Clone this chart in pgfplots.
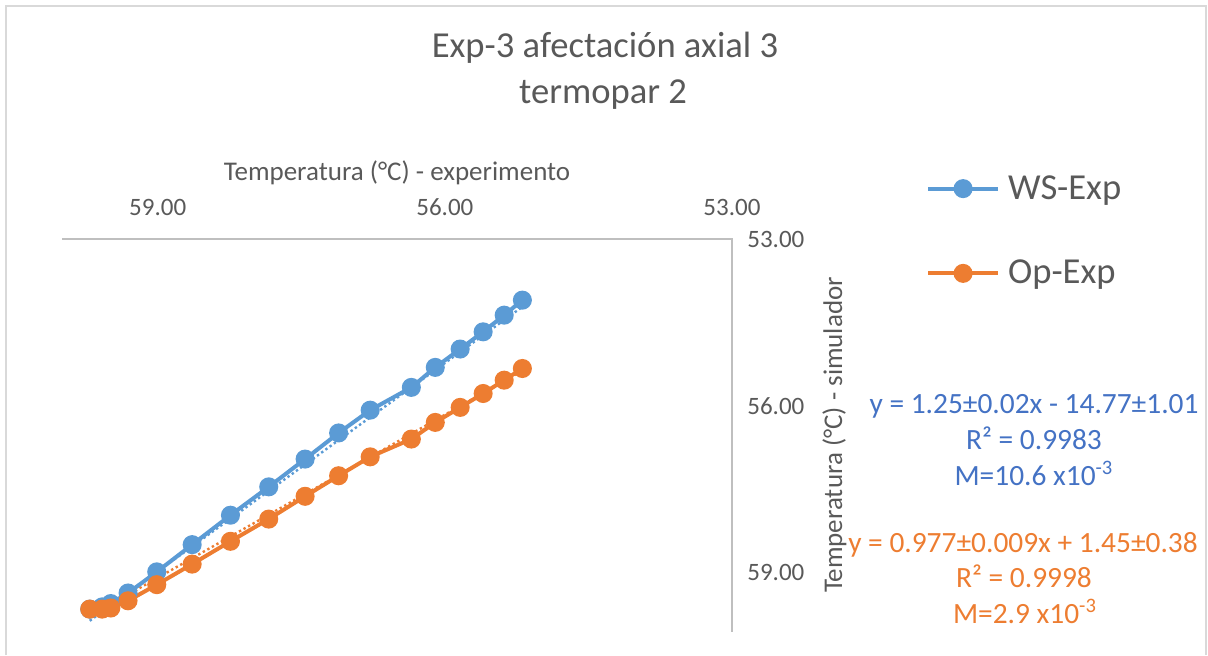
\documentclass[border=0pt]{standalone}
\usepackage{pgfplots}
\pgfplotsset{compat=1.18}
\usepackage{fontspec}
\setmainfont{Carlito}
\definecolor{txt}{HTML}{595959}
\definecolor{wsblue}{HTML}{5B9BD5}
\definecolor{oporange}{HTML}{ED7D31}
\definecolor{eqblue}{HTML}{4472C4}
\definecolor{axc}{HTML}{BFBFBF}
\definecolor{brd}{HTML}{D9D9D9}
\begin{document}
\begin{tikzpicture}[x=0.5pt,y=0.5pt]
\useasboundingbox (0,0) rectangle (1208,655);
\draw[brd, line width=1pt] (6,0) -- (6,649) -- (1206,649) -- (1206,0);
\begin{axis}[
  name=ax,
  at={(198.5pt,110.75pt)}, anchor=center,
  scale only axis, width=335pt, height=194.5pt,
  xmin=53, xmax=60, ymin=53, ymax=60,
  x dir=reverse, y dir=reverse,
  axis line style={draw=none},
  major tick length=0pt,
  xtick={53,56,59}, ytick={53,56,59},
  xticklabel pos=upper, yticklabel pos=upper,
  xticklabel style={anchor=south, inner sep=0pt, yshift=11.5pt},
  yticklabel style={anchor=west, inner sep=0pt, xshift=7.5pt},
  ticklabel style={font=\fontsize{12.5}{15}\selectfont, text=txt},
  /pgf/number format/.cd, fixed, fixed zerofill, precision=2, assume math mode=true,
  /pgfplots/.cd,
  legend style={draw=none, fill=none, at={(1.2891,1.0206)}, anchor=west,
    inner sep=0pt, row sep=29pt, font=\fontsize{18.3}{22}\selectfont, text=txt,
    nodes={inner sep=0pt}, column sep=4pt},
  legend cell align=left,
  legend image code/.code={\draw[mark repeat=2,mark phase=2,#1] plot coordinates {(0pt,0pt) (17.5pt,0pt) (35pt,0pt)};},
  clip=false,
]
\addplot[forget plot, wsblue, line width=1.2pt, dash pattern=on 1.2pt off 1.4pt] coordinates {(59.71,59.87) (55.19,54.22)};
\addplot[forget plot, oporange, line width=1.2pt, dash pattern=on 1.2pt off 1.4pt] coordinates {(59.71,59.79) (55.19,55.37)};
\addplot[wsblue, line width=2pt, mark=*, mark size=3.75pt, mark options={fill=wsblue, draw=wsblue}] table {
x y
55.19 54.10
55.38 54.37
55.60 54.67
55.84 54.98
56.10 55.31
56.35 55.67
56.78 56.08
57.11 56.49
57.46 56.96
57.84 57.46
58.24 57.97
58.64 58.50
59.01 58.99
59.31 59.37
59.49 59.56
59.58 59.62
59.71 59.66
};
\addlegendentry{WS-Exp}
\addplot[oporange, line width=2pt, mark=*, mark size=3.75pt, mark options={fill=oporange, draw=oporange}] table {
x y
55.19 55.33
55.38 55.54
55.60 55.78
55.84 56.03
56.10 56.30
56.35 56.60
56.78 56.92
57.11 57.26
57.46 57.63
57.84 58.04
58.24 58.44
58.64 58.85
59.01 59.22
59.31 59.51
59.49 59.64
59.58 59.66
59.71 59.66
};
\addlegendentry{Op-Exp}
\end{axis}
\draw[axc, line width=1pt] (ax.north west) -- (ax.north east) -- ([yshift=-2pt]ax.south east);
% titles and labels
\node[anchor=base, text=txt, font=\fontsize{18.3}{22}\selectfont, inner sep=0pt] at (605,597) {Exp-3 afectación axial 3};
\node[anchor=base, text=txt, font=\fontsize{18.3}{22}\selectfont, inner sep=0pt] at (603,552) {termopar 2};
\node[anchor=base, text=txt, font=\fontsize{13.5}{16}\selectfont, inner sep=0pt] at (397,475) {Temperatura (°C) - experimento};
\node[anchor=base, rotate=90, text=txt, font=\fontsize{13.5}{16}\selectfont, inner sep=0pt] at (842,220) {Temperatura (°C) - simulador};
% equations
\node[anchor=base, text=eqblue, font=\fontsize{14.7}{17}\selectfont, inner sep=0pt] at (1034,242) {y = 1.25±0.02x - 14.77±1.01};
\node[anchor=base, text=eqblue, font=\fontsize{14.7}{17}\selectfont, inner sep=0pt] at (1034,206) {R² = 0.9983};
\node[anchor=base, text=eqblue, font=\fontsize{14.7}{17}\selectfont, inner sep=0pt] at (1034,170) {M=10.6 x10\textsuperscript{-3}};
\node[anchor=base, text=oporange, font=\fontsize{14.7}{17}\selectfont, inner sep=0pt] at (1023,103) {y = 0.977±0.009x + 1.45±0.38};
\node[anchor=base, text=oporange, font=\fontsize{14.7}{17}\selectfont, inner sep=0pt] at (1024,68) {R² = 0.9998};
\node[anchor=base, text=oporange, font=\fontsize{14.7}{17}\selectfont, inner sep=0pt] at (1025,32) {M=2.9 x10\textsuperscript{-3}};
\end{tikzpicture}
\end{document}
